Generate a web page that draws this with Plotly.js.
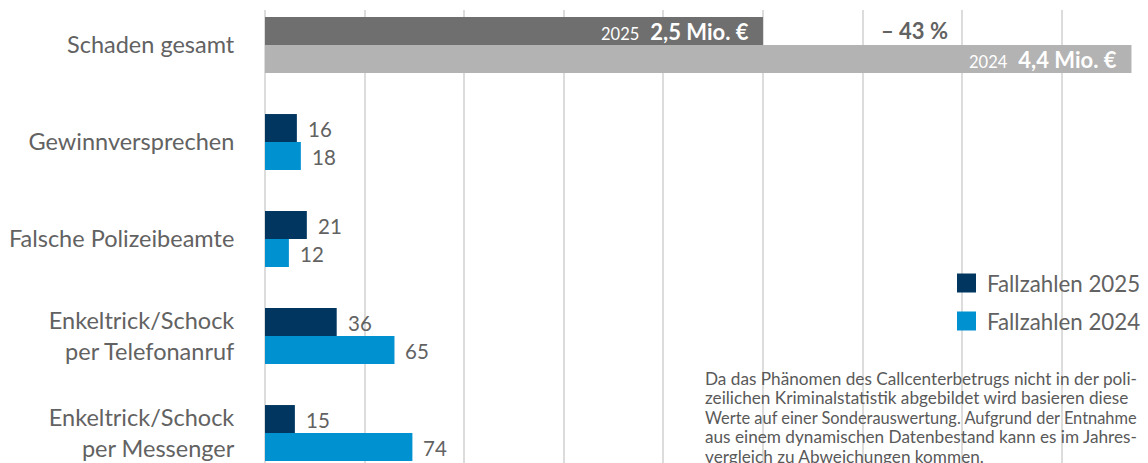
<!DOCTYPE html>
<html><head><meta charset="utf-8">
<script src="https://cdn.plot.ly/plotly-3.0.1.min.js"></script>
<style>html,body{margin:0;padding:0;background:#fff;overflow:hidden}#chart{width:1148px;height:463px}</style>
</head><body><div id="chart"></div>
<script>
// ---- data ----
const categories = ['Schaden gesamt', 'Gewinnversprechen', 'Falsche Polizeibeamte',
  'Enkeltrick/Schock<br>per Telefonanruf', 'Enkeltrick/Schock<br>per Messenger'];
const caseCategories = categories.slice(1);
const cases2025 = [16, 21, 36, 15];
const cases2024 = [18, 12, 65, 74];
const damageMio = [2.5, 4.35];            // 2025, 2024
const damageYears = ['2025', '2024'];
const damageLabels = ['2,5 Mio. €', '4,4 Mio. €'];
const changeLabel = '– 43 %';
const legendLabels = ['Fallzahlen 2025', 'Fallzahlen 2024'];
const noteLines = [
  'Da das Phänomen des Callcenterbetrugs nicht in der poli-',
  'zeilichen Kriminalstatistik abgebildet wird basieren diese',
  'Werte auf einer Sonderauswertung. Aufgrund der Entnahme',
  'aus einem dynamischen Datenbestand kann es im Jahres-',
  'vergleich zu Abweichungen kommen.'
];
const noteLineSizes = [17.2, 17.2, 16.4, 17.2, 17.2];

// ---- style ----
const FONT = 'Lato, "Source Sans Pro", sans-serif';
const W = 1148, H = 463, ML = 265, MT = 10;
const C25 = '#00365f', C24 = '#0091d0', G25 = '#6f6f6f', G24 = '#b3b3b3';
const TXT = '#626262';
const px = x => (x - ML) / (W - ML);
const py = y => (H - y) / (H - MT);

const traces = [
  {type: 'bar', orientation: 'h', x: [damageMio[0]], y: [categories[0]], xaxis: 'x2', yaxis: 'y',
   marker: {color: G25}, hoverinfo: 'skip', showlegend: false},
  {type: 'bar', orientation: 'h', x: [damageMio[1]], y: [categories[0]], xaxis: 'x2', yaxis: 'y',
   marker: {color: G24}, hoverinfo: 'skip', showlegend: false},
  {type: 'bar', orientation: 'h', x: cases2025, y: caseCategories,
   marker: {color: C25}, hoverinfo: 'skip', showlegend: false},
  {type: 'bar', orientation: 'h', x: cases2024, y: caseCategories,
   marker: {color: C24}, hoverinfo: 'skip', showlegend: false}
];

const annotations = [];
caseCategories.forEach((c, i) => {
  [[cases2025[i], 14], [cases2024[i], -14]].forEach(([v, ys]) => {
    annotations.push({x: v, y: c, xref: 'x', yref: 'y', text: String(v), showarrow: false,
      xanchor: 'left', yanchor: 'middle', xshift: 9, yshift: ys - 1,
      font: {family: FONT, size: 20.5, color: TXT}});
  });
});
damageMio.forEach((v, i) => {
  annotations.push({x: v, y: categories[0], xref: 'x2', yref: 'y', showarrow: false,
    xanchor: 'right', yanchor: 'middle', xshift: -12, yshift: i === 0 ? 14 : -14,
    text: '<span style="font-size:16.5px">' + damageYears[i] + '</span>\u2002<b>' + damageLabels[i] + '</b>',
    font: {family: FONT, size: 22, color: '#ffffff'}});
});
annotations.push({x: px(914), y: py(30), xref: 'paper', yref: 'paper', showarrow: false,
  xanchor: 'center', yanchor: 'middle',
  text: '<b>' + changeLabel + '</b>', font: {family: FONT, size: 22, color: TXT}});
const shapes = [];
legendLabels.forEach((l, i) => {
  const cy = 283 + i * 38;
  shapes.push({type: 'rect', xref: 'paper', yref: 'paper', x0: px(957), x1: px(976),
    y0: py(cy + 9.5), y1: py(cy - 9.5), fillcolor: i === 0 ? C25 : C24, line: {width: 0}});
  annotations.push({x: px(985), y: py(cy), xref: 'paper', yref: 'paper', showarrow: false,
    xanchor: 'left', yanchor: 'middle', text: l, font: {family: FONT, size: 22.3, color: TXT}});
});
noteLines.forEach((line, i) => {
  annotations.push({x: px(703), y: py(378 + i * 19.6), xref: 'paper', yref: 'paper', showarrow: false,
    xanchor: 'left', yanchor: 'middle', align: 'left', text: line,
    font: {family: FONT, size: noteLineSizes[i], color: '#595959'}});
});

const layout = {
  width: W, height: H, margin: {l: ML, r: 0, t: MT, b: 0},
  paper_bgcolor: '#fff', plot_bgcolor: '#fff',
  barmode: 'group', bargap: 0.423, bargroupgap: 0,
  xaxis: {range: [0, 443.3], dtick: 50, tick0: 0, showticklabels: false, ticks: '',
    showgrid: true, gridcolor: '#dcdcdc', gridwidth: 2, zeroline: true, zerolinecolor: '#dcdcdc',
    zerolinewidth: 2, showline: false, fixedrange: true},
  xaxis2: {range: [0, 4.433], overlaying: 'x', visible: false, fixedrange: true},
  yaxis: {type: 'category', categoryarray: categories, range: [4.309, -0.361],
    showgrid: false, zeroline: false, showline: false, ticks: 'outside', ticklen: 25,
    tickcolor: 'rgba(0,0,0,0)', tickfont: {family: FONT, size: 23.5, color: TXT}, fixedrange: true},
  annotations, shapes, showlegend: false,
  font: {family: FONT}
};
Plotly.newPlot('chart', traces, layout, {displayModeBar: false, staticPlot: true});
</script></body></html>
